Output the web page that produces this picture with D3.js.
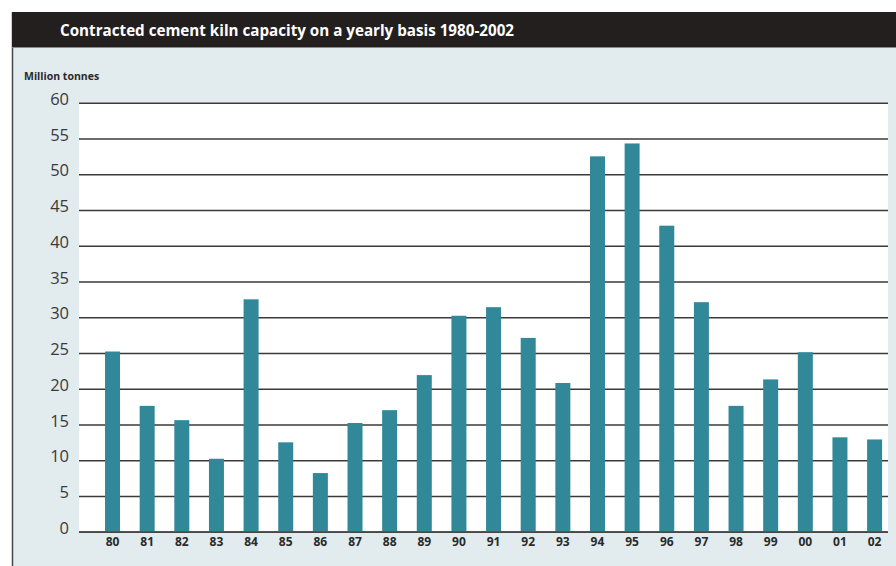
<!DOCTYPE html>
<html>
<head>
<meta charset="utf-8">
<script src="https://cdn.jsdelivr.net/npm/d3@7"></script>
<style>
  html, body { margin: 0; padding: 0; background: #ffffff; }
  svg { display: block; }
</style>
</head>
<body>
<svg id="chart" width="896" height="566"></svg>
<script>
// Contracted cement kiln capacity, million tonnes per year
const years = ["80","81","82","83","84","85","86","87","88","89","90","91",
               "92","93","94","95","96","97","98","99","00","01","02"];
const capacity = [25.2, 17.6, 15.6, 10.2, 32.5, 12.5, 8.2, 15.2, 17.0, 21.9, 30.2, 31.4,
                  27.1, 20.8, 52.5, 54.3, 42.8, 32.1, 17.6, 21.3, 25.1, 13.2, 12.9];
const yTicks = [0, 5, 10, 15, 20, 25, 30, 35, 40, 45, 50, 55, 60];

const titleText = "Contracted cement kiln capacity on a yearly basis 1980-2002";
const unitText = "Million tonnes";

const svg = d3.select("#chart");
const W = 896, H = 566;
const plot = { left: 79, right: 888, top: 102.7, bottom: 531.7 };

// panel background and frame
svg.append("rect").attr("x", 12).attr("y", 47).attr("width", W - 12).attr("height", H - 47)
  .attr("fill", "#e2ebee");
svg.append("line").attr("x1", 12.5).attr("x2", 12.5).attr("y1", 12).attr("y2", H)
  .attr("stroke", "#4a4a4a").attr("stroke-width", 1.5);

// title bar
svg.append("rect").attr("x", 12).attr("y", 12).attr("width", W - 12).attr("height", 35)
  .attr("fill", "#231f1f");
svg.append("line").attr("x1", 12).attr("x2", W).attr("y1", 47.5).attr("y2", 47.5)
  .attr("stroke", "#8a8a8a").attr("stroke-width", 1);
svg.append("text").attr("x", 60).attr("y", 35.5)
  .attr("font-family", "'Open Sans', 'Noto Sans', sans-serif")
  .attr("font-weight", 700).attr("font-size", 15.2).attr("fill", "#ffffff")
  .text(titleText);

// plot area
svg.append("rect").attr("x", plot.left).attr("y", plot.top)
  .attr("width", plot.right - plot.left).attr("height", plot.bottom - plot.top)
  .attr("fill", "#ffffff");

const y = d3.scaleLinear().domain([0, 60]).range([plot.bottom, plot.top]);
const x = d3.scaleBand().domain(years).range([plot.left, plot.right])
  .paddingInner(0.567).paddingOuter(0.461).align(0.815);

// gridlines and value labels
const yAxis = svg.append("g").attr("transform", `translate(${plot.left},0)`)
  .call(d3.axisLeft(y).tickValues(yTicks).tickFormat(d3.format("d"))
    .tickSize(-(plot.right - plot.left)).tickPadding(10));
yAxis.select(".domain").remove();
yAxis.selectAll(".tick line").attr("stroke", "#3a3a3a").attr("stroke-width", 1.4);
yAxis.selectAll(".tick text")
  .attr("font-family", "'Open Sans', 'Noto Sans', sans-serif")
  .attr("font-size", 16.5).attr("fill", "#3a3a3a").attr("dy", "0.1em");

svg.append("text").attr("x", 24).attr("y", 80)
  .attr("font-family", "'Open Sans', 'Noto Sans', sans-serif")
  .attr("font-weight", 700).attr("font-size", 10.5).attr("fill", "#2a2a2a")
  .text(unitText);

// bars
svg.append("g").selectAll("rect").data(capacity).join("rect")
  .attr("x", (d, i) => x(years[i]))
  .attr("width", x.bandwidth())
  .attr("y", d => y(d))
  .attr("height", d => y(0) - y(d))
  .attr("fill", "#318899");

// baseline
svg.append("line").attr("x1", plot.left).attr("x2", plot.right)
  .attr("y1", y(0)).attr("y2", y(0)).attr("stroke", "#555").attr("stroke-width", 1.6);

// year labels
const xAxis = svg.append("g").attr("transform", `translate(0,${plot.bottom})`)
  .call(d3.axisBottom(x).tickSize(0).tickPadding(6));
xAxis.select(".domain").remove();
xAxis.selectAll(".tick text")
  .attr("font-family", "'Open Sans', 'Noto Sans', sans-serif")
  .attr("font-weight", 700).attr("font-size", 12).attr("fill", "#2a2a2a");
</script>
</body>
</html>
